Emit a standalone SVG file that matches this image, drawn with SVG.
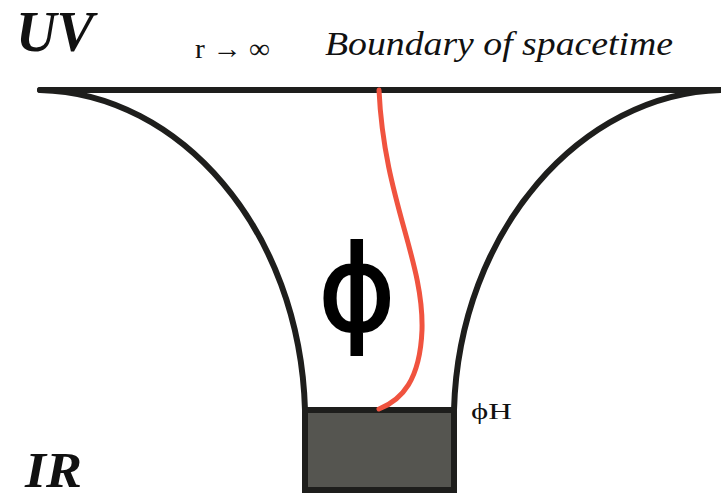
<svg xmlns="http://www.w3.org/2000/svg" width="721" height="497" viewBox="0 0 721 497">
<style>
.ink{fill:none;stroke:#1e1e1c;stroke-width:6;stroke-linecap:round}
text{font-family:'Liberation Serif','Times New Roman',serif;fill:#111}
</style>
<rect width="721" height="497" fill="#fff"/>
<g id="labels">
<text x="16" y="51" font-size="56" font-weight="bold" font-style="italic" textLength="78" lengthAdjust="spacingAndGlyphs">UV</text>
<text x="25" y="487" font-size="50" font-weight="bold" font-style="italic" textLength="57" lengthAdjust="spacingAndGlyphs">IR</text>
<text x="195" y="58" font-size="28" textLength="75" lengthAdjust="spacingAndGlyphs">r → ∞</text>
<text x="325" y="55" font-size="34" font-style="italic" textLength="348" lengthAdjust="spacingAndGlyphs">Boundary of spacetime</text>
<text x="471" y="419" font-size="24" textLength="41" lengthAdjust="spacingAndGlyphs">ϕH</text>
</g>
<g id="throat">
<line class="ink" x1="40" y1="90" x2="724" y2="90"/>
<path class="ink" d="M40,90 C180,93 300,230 305,410"/>
<path class="ink" d="M722,90 C582,93 459,230 454,410"/>
</g>
<g id="horizon">
<rect x="305" y="410" width="149" height="80" fill="#555550" stroke="#1e1e1c" stroke-width="6"/>
</g>
<g id="field">
<path d="M379,90 C384,200 424,260 422,330 C420,380 402,400 379,409" fill="none" stroke="#f0533f" stroke-width="5" stroke-linecap="round"/>
<text x="357" y="330" style="font-family:'DejaVu Sans',sans-serif;fill:#000" font-size="118" text-anchor="middle" stroke="#000" stroke-width="2">ϕ</text>
</g>
</svg>
